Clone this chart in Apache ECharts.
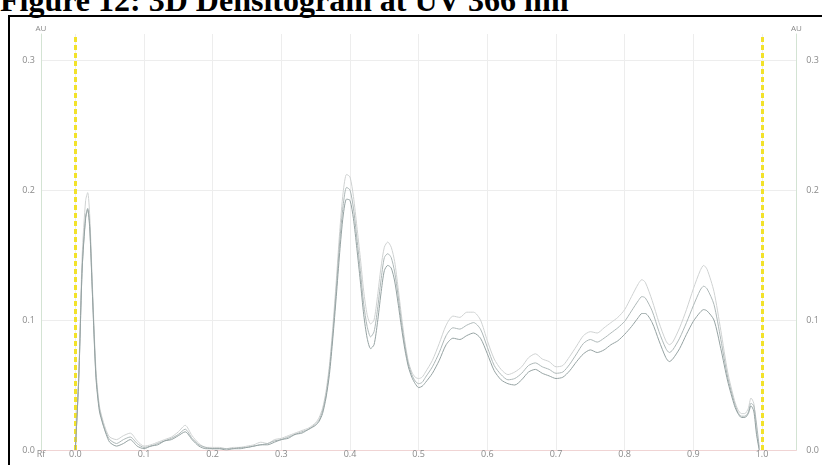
<!DOCTYPE html>
<html>
<head>
<meta charset="utf-8">
<script src="https://cdn.jsdelivr.net/npm/echarts@6/dist/echarts.min.js"></script>
<style>
  html, body { margin: 0; padding: 0; background: #fff; overflow: hidden; }
  #title { position: absolute; left: 0; top: -18px; font-family: "Liberation Serif", "Times New Roman", serif; font-weight: bold; font-size: 32px; color: #000; white-space: nowrap; }
  #frame { position: absolute; left: 8px; top: 15px; width: 830px; height: 470px; border: 2px solid #000; box-sizing: border-box; }
  #chart { position: absolute; left: 0; top: 0; width: 822px; height: 465px; }
</style>
</head>
<body>
<div id="title">Figure 12: 3D Densitogram at UV 366 nm</div>
<div id="frame"></div>
<div id="chart"></div>
<script>
// Rf positions (shared by all tracks)
const rf = [0.000,0.005,0.010,0.015,0.018,0.021,0.025,0.030,0.035,0.040,0.045,0.050,0.060,0.070,0.080,0.090,0.100,0.110,0.120,0.130,0.140,0.150,0.160,0.170,0.180,0.190,0.200,0.210,0.220,0.230,0.240,0.250,0.260,0.270,0.280,0.290,0.300,0.310,0.320,0.330,0.340,0.350,0.355,0.360,0.365,0.370,0.375,0.380,0.385,0.390,0.395,0.400,0.405,0.410,0.415,0.420,0.425,0.430,0.435,0.440,0.445,0.450,0.455,0.460,0.465,0.470,0.475,0.480,0.485,0.490,0.495,0.500,0.505,0.510,0.520,0.530,0.540,0.550,0.560,0.570,0.580,0.590,0.600,0.610,0.620,0.630,0.640,0.650,0.660,0.670,0.680,0.690,0.700,0.710,0.720,0.730,0.740,0.750,0.760,0.770,0.780,0.790,0.800,0.810,0.820,0.825,0.830,0.840,0.850,0.860,0.865,0.870,0.880,0.890,0.900,0.910,0.915,0.920,0.930,0.940,0.950,0.960,0.965,0.970,0.975,0.980,0.984,0.988,0.992,0.996];

// Track absorbances (AU)
const trackTop = [0,0.060,0.150,0.192,0.198,0.180,0.125,0.062,0.034,0.023,0.015,0.010,0.008,0.011,0.013,0.007,0.003,0.004,0.006,0.008,0.010,0.014,0.019,0.011,0.005,0.002,0.002,0.002,0.001,0.002,0.002,0.003,0.004,0.006,0.005,0.008,0.009,0.011,0.013,0.015,0.017,0.021,0.025,0.032,0.045,0.065,0.095,0.130,0.168,0.198,0.212,0.210,0.195,0.172,0.148,0.122,0.104,0.097,0.100,0.118,0.140,0.156,0.160,0.156,0.145,0.125,0.103,0.083,0.068,0.060,0.056,0.055,0.056,0.060,0.069,0.082,0.096,0.103,0.102,0.106,0.106,0.100,0.084,0.070,0.062,0.058,0.060,0.064,0.071,0.074,0.070,0.068,0.064,0.065,0.072,0.080,0.088,0.091,0.090,0.094,0.098,0.102,0.108,0.118,0.128,0.131,0.129,0.115,0.098,0.084,0.081,0.083,0.094,0.108,0.124,0.138,0.142,0.139,0.122,0.092,0.060,0.038,0.031,0.028,0.028,0.032,0.040,0.036,0.015,0.000];
const trackMid = [0,0.055,0.140,0.180,0.186,0.172,0.120,0.058,0.032,0.021,0.013,0.008,0.005,0.008,0.010,0.005,0.002,0.003,0.005,0.007,0.009,0.012,0.016,0.009,0.004,0.002,0.001,0.001,0.001,0.001,0.002,0.002,0.003,0.004,0.005,0.007,0.008,0.010,0.012,0.014,0.016,0.020,0.023,0.030,0.042,0.062,0.090,0.124,0.160,0.188,0.202,0.200,0.186,0.163,0.138,0.112,0.095,0.087,0.091,0.108,0.130,0.148,0.151,0.148,0.137,0.119,0.098,0.080,0.066,0.058,0.053,0.051,0.052,0.056,0.064,0.075,0.088,0.094,0.093,0.096,0.098,0.093,0.079,0.065,0.058,0.054,0.055,0.059,0.065,0.067,0.064,0.062,0.059,0.060,0.066,0.074,0.082,0.085,0.083,0.086,0.090,0.094,0.099,0.107,0.115,0.118,0.117,0.107,0.091,0.078,0.075,0.077,0.086,0.098,0.111,0.123,0.126,0.124,0.112,0.085,0.056,0.036,0.029,0.026,0.026,0.029,0.036,0.034,0.020,0.002];
const trackLow = [0,0.055,0.140,0.178,0.185,0.170,0.118,0.056,0.030,0.020,0.012,0.006,0.003,0.005,0.008,0.003,0.001,0.003,0.004,0.007,0.008,0.011,0.014,0.008,0.003,0.001,0.001,0.001,0.000,0.001,0.001,0.002,0.003,0.004,0.004,0.006,0.008,0.009,0.012,0.013,0.016,0.019,0.022,0.028,0.040,0.058,0.086,0.118,0.152,0.180,0.193,0.192,0.178,0.155,0.130,0.104,0.086,0.078,0.081,0.098,0.120,0.138,0.142,0.140,0.130,0.113,0.094,0.077,0.064,0.056,0.051,0.048,0.049,0.052,0.059,0.069,0.081,0.086,0.085,0.088,0.090,0.086,0.074,0.061,0.054,0.051,0.050,0.054,0.060,0.062,0.059,0.057,0.055,0.056,0.061,0.068,0.074,0.077,0.075,0.077,0.081,0.084,0.089,0.095,0.102,0.105,0.105,0.098,0.084,0.071,0.068,0.070,0.078,0.089,0.099,0.106,0.108,0.107,0.100,0.078,0.053,0.034,0.028,0.025,0.025,0.028,0.034,0.030,0.012,0.000];

// Application boundaries (yellow dashed lines)
const bounds = [0.0, 1.0];

const xMin = -0.05, xMax = 1.05;
const yMax = 0.32;
function pairs(ys) { return rf.map((r, i) => [r, ys[i]]); }

const chart = echarts.init(document.getElementById('chart'), null, { renderer: 'canvas' });
const FONT = 'Open Sans, sans-serif';
const labelStyle = { color: '#8a8a8a', fontSize: 9, fontFamily: FONT };
const yAxisCommon = {
  type: 'value', min: 0, max: yMax, interval: 0.1,
  name: 'AU', nameLocation: 'end', nameGap: 1,
  nameTextStyle: { color: '#8a8a8a', fontSize: 8, fontFamily: FONT },
  axisLine: { show: true, onZero: false, lineStyle: { color: '#d3e3d3', width: 1 } },
  axisTick: { show: false }
};
const lineSeries = (data, color, z) => ({
  type: 'line', data: data, showSymbol: false, smooth: 0.25, z: z,
  lineStyle: { color: color, width: 1 }, silent: true, animation: false
});

chart.setOption({
  animation: false,
  grid: { left: 41, right: 25, top: 34, bottom: 15, containLabel: false },
  xAxis: {
    type: 'value', min: xMin, max: xMax, splitNumber: 11,
    axisLine: { show: true, onZero: false, lineStyle: { color: '#f0d4d4', width: 1 } },
    axisTick: { show: false },
    axisLabel: Object.assign({}, labelStyle, {
      margin: 0, showMinLabel: true, showMaxLabel: true, hideOverlap: false,
      formatter: v => (Math.abs(v - xMin) < 1e-6 ? 'Rf' : (Math.abs(v - xMax) < 1e-6 ? '' : v.toFixed(1)))
    }),
    splitLine: { show: true, lineStyle: { color: '#ededed', width: 1 } }
  },
  yAxis: [
    Object.assign({}, yAxisCommon, {
      position: 'left',
      axisLabel: Object.assign({}, labelStyle, { margin: 6, showMaxLabel: false, hideOverlap: false, formatter: v => v.toFixed(1) }),
      splitLine: { show: true, showMaxLine: false, showMinLine: false, lineStyle: { color: '#ededed', width: 1 } }
    }),
    Object.assign({}, yAxisCommon, {
      position: 'right',
      axisLabel: Object.assign({}, labelStyle, { margin: 10, showMaxLabel: false, hideOverlap: false, formatter: v => v.toFixed(1) }),
      splitLine: { show: false }
    })
  ],
  series: [
    lineSeries(pairs(trackTop), '#cfd2d2', 3),
    lineSeries(pairs(trackMid), '#aeb8b8', 4),
    lineSeries(pairs(trackLow), '#95a2a2', 5),
    {
      type: 'line', data: [], z: 10, silent: true,
      markLine: {
        symbol: ['none', 'none'], silent: true, animation: false,
        label: { show: false },
        lineStyle: { color: '#f2e22a', width: 3, type: [5, 3] },
        data: bounds.map(b => ({ xAxis: b }))
      }
    }
  ]
});
</script>
</body>
</html>
